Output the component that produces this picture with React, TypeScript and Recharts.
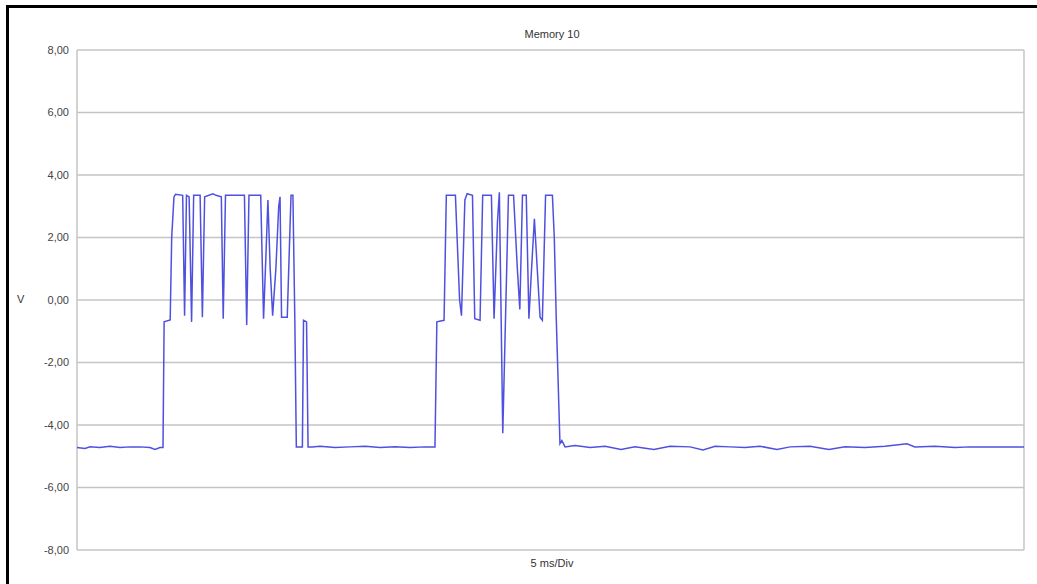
import React from "react";
import { LineChart, Line, XAxis, YAxis, CartesianGrid } from "recharts";

const chartTitle = "Memory 10";
const xAxisLabel = "5 ms/Div";
const yAxisLabel = "V";

const yTicks = [-8, -6, -4, -2, 0, 2, 4, 6, 8];
const xTicks = [0, 5, 10, 15, 20, 25, 30, 35, 40, 45, 50];

// time in ms
const timeMs = [
  0, 0.42, 0.69, 1.21, 1.74, 2.27, 2.8, 3.33, 3.85, 4.12, 4.38, 4.54,
  4.6, 4.92, 5.0, 5.12, 5.2, 5.58, 5.68, 5.78, 5.92, 6.05, 6.16, 6.5,
  6.62, 6.74, 7.18, 7.34, 7.62, 7.72, 7.84, 8.84, 8.96, 9.08, 9.7, 9.85,
  9.98, 10.08, 10.2, 10.33, 10.5, 10.65, 10.72, 10.8, 11.1, 11.3, 11.4, 11.5,
  11.58, 11.9, 11.96, 12.12, 12.2, 12.41,
  12.83, 13.62, 14.41, 15.21, 16.0, 16.79, 17.58, 18.37, 18.9,
  19.0, 19.38, 19.5, 19.98, 20.2, 20.3, 20.48, 20.6, 20.88, 21.0, 21.28, 21.42,
  21.88, 22.02, 22.2, 22.3, 22.48, 22.78, 23.05, 23.25, 23.38, 23.52, 23.72, 23.86,
  24.0, 24.15, 24.3, 24.45, 24.57, 24.74, 25.1, 25.2, 25.3, 25.5, 25.6, 25.77,
  26.29, 27.09, 27.88, 28.72, 29.46, 30.46, 31.31, 32.37, 33.05, 33.69, 34.48, 35.27,
  36.06, 36.96, 37.65, 38.7, 39.7, 40.55, 41.61, 42.66, 43.82, 44.24, 45.3, 46.36,
  47.15, 50,
];

// voltage in V
const volts = [
  -4.72, -4.75, -4.7, -4.72, -4.68, -4.72, -4.7, -4.7, -4.72, -4.78, -4.72, -4.72,
  -0.7, -0.64, 2.0, 3.3, 3.38, 3.35, -0.5, 3.35, 3.3, -0.7, 3.35, 3.35,
  -0.55, 3.3, 3.4, 3.35, 3.3, -0.6, 3.35, 3.35, -0.8, 3.35, 3.35, -0.6,
  1.5, 3.2, 1.0, -0.5, 1.0, 3.0, 3.3, -0.55, -0.55, 3.35, 3.35, -0.6,
  -4.7, -4.7, -0.65, -0.7, -4.7, -4.7,
  -4.68, -4.72, -4.7, -4.68, -4.72, -4.7, -4.72, -4.7, -4.7,
  -0.7, -0.65, 3.35, 3.35, 0.0, -0.5, 3.2, 3.4, 3.35, -0.6, -0.65, 3.35,
  3.35, -0.6, 2.5, 3.45, -4.26, 3.35, 3.35, 1.0, -0.3, 3.35, 3.35, -0.6,
  1.0, 2.6, 1.0, -0.55, -0.65, 3.35, 3.35, 2.0, -0.5, -4.6, -4.5, -4.7,
  -4.66, -4.72, -4.68, -4.78, -4.7, -4.78, -4.68, -4.7, -4.8, -4.68, -4.7, -4.72,
  -4.68, -4.78, -4.7, -4.68, -4.78, -4.7, -4.72, -4.68, -4.6, -4.7, -4.68, -4.72,
  -4.7, -4.7,
];

const data = timeMs.map((t, i) => ({ t, v: volts[i] }));

const fmt = (v: number) => v.toFixed(2).replace(".", ",");

const textStyle: React.CSSProperties = {
  position: "absolute",
  fontFamily: "'Liberation Sans', Arial, sans-serif",
  fontSize: 11,
  color: "#333",
  whiteSpace: "nowrap",
};

export default function App() {
  return (
    <div
      style={{
        position: "absolute",
        left: 0,
        top: 0,
        width: 1037,
        height: 584,
        background: "#ffffff",
        overflow: "hidden",
      }}
    >
      <div
        style={{
          position: "absolute",
          left: 6,
          top: 5,
          width: 1040,
          height: 590,
          borderLeft: "3px solid #000",
          borderTop: "3px solid #000",
        }}
      />
      <LineChart
        width={1037}
        height={584}
        data={data}
        margin={{ top: 50, right: 13, bottom: 34, left: 17 }}
        style={{ position: "absolute", left: 0, top: 0 }}
      >
        <CartesianGrid stroke="#c4c4c4" strokeWidth={1.5} />
        <XAxis
          dataKey="t"
          type="number"
          domain={[0, 50]}
          ticks={xTicks}
          tick={false}
          axisLine={false}
          tickLine={false}
          height={0}
        />
        <YAxis
          type="number"
          domain={[-8, 8]}
          ticks={yTicks}
          tickFormatter={fmt}
          axisLine={false}
          tickLine={false}
          width={60}
          tick={{ fill: "#444", fontSize: 11, fontFamily: "'Liberation Sans', Arial, sans-serif" }}
        />
        <Line
          dataKey="v"
          type="linear"
          stroke="#5050e0"
          strokeWidth={1.5}
          dot={false}
          isAnimationActive={false}
        />
      </LineChart>
      <div style={{ ...textStyle, left: 0, width: 1104, top: 28, textAlign: "center" }}>
        {chartTitle}
      </div>
      <div style={{ ...textStyle, left: 0, width: 1104, top: 557, textAlign: "center" }}>
        {xAxisLabel}
      </div>
      <div style={{ ...textStyle, left: 17, top: 293 }}>{yAxisLabel}</div>
    </div>
  );
}
